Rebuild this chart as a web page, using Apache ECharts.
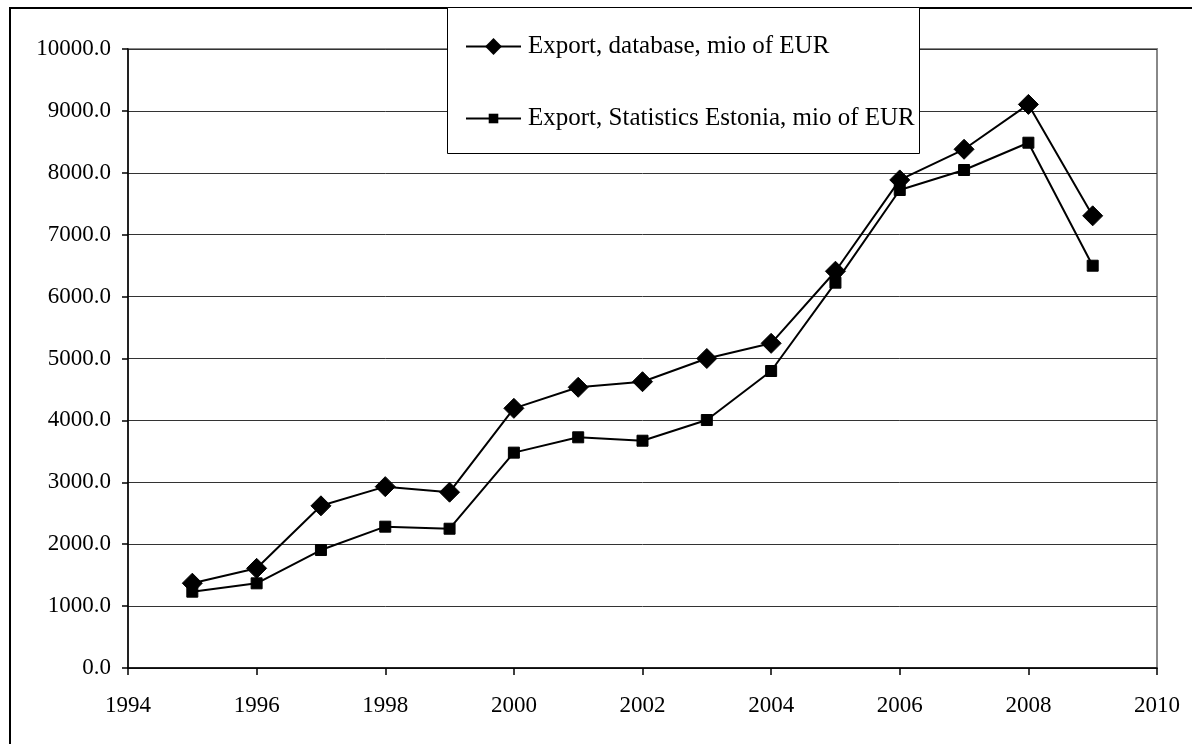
<!DOCTYPE html>
<html>
<head>
<meta charset="utf-8">
<script src="https://cdn.jsdelivr.net/npm/echarts@6/dist/echarts.min.js"></script>
<style>
  html, body { margin: 0; padding: 0; background: #fff; }
  #chart { width: 1192px; height: 744px; }
</style>
</head>
<body>
<div id="chart"></div>
<script>
// Estonian exports, mio of EUR
const years = [1995, 1996, 1997, 1998, 1999, 2000, 2001, 2002, 2003, 2004, 2005, 2006, 2007, 2008, 2009];
const exportDatabase = [1370, 1610, 2620, 2930, 2840, 4195, 4535, 4625, 5000, 5245, 6410, 7885, 8380, 9105, 7305];
const exportStatistics = [1233, 1368, 1906, 2283, 2250, 3479, 3727, 3672, 4006, 4798, 6225, 7722, 8045, 8486, 6499];
const seriesNames = ['Export, database, mio of EUR', 'Export, Statistics Estonia, mio of EUR'];

const FONT = 'Liberation Serif, Times New Roman, serif';

const pairs = (vals) => years.map((y, i) => [y, vals[i]]);

// shared look of the two legend rows (each row has its own icon height,
// so the diamond and the square keep their different sizes)
const legendRow = (name, top, itemHeight) => ({
  orient: 'vertical',
  left: 465, top: top,
  padding: 0,
  itemWidth: 55, itemHeight: itemHeight,
  textStyle: { fontFamily: FONT, fontSize: 25, color: '#000', padding: [0, 0, 0, 2] },
  data: [name],
  z: 6
});

const chart = echarts.init(document.getElementById('chart'), null, { renderer: 'canvas' });

chart.setOption({
  animation: false,
  backgroundColor: '#ffffff',
  textStyle: { fontFamily: FONT, color: '#000' },
  grid: {
    left: 128, right: 35, top: 49, bottom: 76,
    show: true, borderColor: '#888', borderWidth: 2, backgroundColor: 'transparent'
  },
  graphic: [
    {
      // outer chart frame
      type: 'rect',
      shape: { x: 10, y: 8, width: 1400, height: 1000 },
      style: { fill: 'none', stroke: '#000', lineWidth: 2 },
      silent: true, z: -10
    },
    {
      // legend box
      type: 'rect',
      shape: { x: 447.5, y: 7.5, width: 472, height: 146 },
      style: { fill: '#fff', stroke: '#000', lineWidth: 1 },
      silent: true, z: 5
    }
  ],
  legend: [
    legendRow(seriesNames[0], 34, 21),
    legendRow(seriesNames[1], 106, 12)
  ],
  xAxis: {
    type: 'value',
    min: 1994, max: 2010, interval: 2,
    axisLine: { show: true, onZero: false, lineStyle: { color: '#000', width: 1.5 } },
    axisTick: { show: true, length: 7, inside: false, lineStyle: { color: '#000', width: 1.5 } },
    axisLabel: {
      fontFamily: FONT, fontSize: 23, color: '#000', margin: 26,
      formatter: (v) => String(v)
    },
    splitLine: { show: false }
  },
  yAxis: {
    type: 'value',
    min: 0, max: 10000, interval: 1000,
    axisLine: { show: true, lineStyle: { color: '#000', width: 1.5 } },
    axisTick: { show: true, length: 6, inside: false, lineStyle: { color: '#000', width: 1.5 } },
    axisLabel: {
      fontFamily: FONT, fontSize: 23, color: '#000', margin: 17,
      formatter: (v) => v.toFixed(1)
    },
    splitLine: { show: true, lineStyle: { color: '#333', width: 1 } }
  },
  series: [
    {
      name: seriesNames[0],
      type: 'line',
      data: pairs(exportDatabase),
      symbol: 'diamond', symbolSize: 20,
      lineStyle: { color: '#000', width: 2 },
      itemStyle: { color: '#000', borderColor: '#000' },
      z: 3
    },
    {
      name: seriesNames[1],
      type: 'line',
      data: pairs(exportStatistics),
      symbol: 'rect', symbolSize: 11,
      lineStyle: { color: '#000', width: 2 },
      itemStyle: { color: '#000', borderColor: '#000' },
      z: 2
    }
  ]
});
</script>
</body>
</html>
